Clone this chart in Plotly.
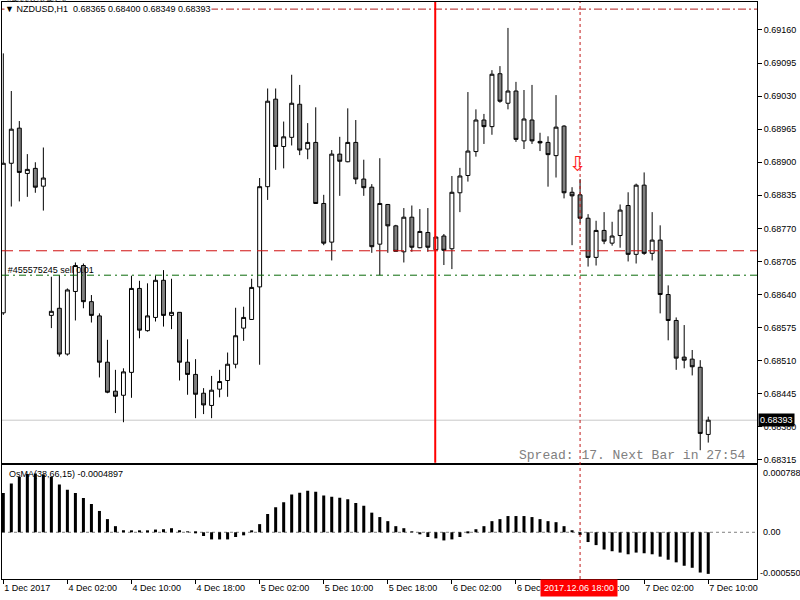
import plotly.graph_objects as go

# ---------------- data ----------------
bar_index = list(range(89))

opens = [0.68604, 0.68898, 0.68967, 0.68878, 0.68888, 0.68853, 0.68599, 0.68613, 0.68523, 0.68646,
         0.68697, 0.68626, 0.68598, 0.68507, 0.68450, 0.68442, 0.68487, 0.68652, 0.68569, 0.68595,
         0.68668, 0.68599, 0.68605, 0.68507, 0.68483, 0.68446, 0.68422, 0.68454, 0.68471, 0.68503,
         0.68574, 0.68591, 0.68655, 0.68852, 0.69024, 0.68931, 0.68949, 0.69014, 0.68926, 0.68939,
         0.68819, 0.68743, 0.68916, 0.68901, 0.68939, 0.68867, 0.68851, 0.68739, 0.68817, 0.68775,
         0.68724, 0.68792, 0.68732, 0.68762, 0.68728, 0.68755, 0.68730, 0.68840, 0.68874, 0.68921,
         0.68983, 0.68970, 0.69074, 0.69016, 0.69040, 0.68942, 0.68983, 0.68941, 0.68939, 0.68913,
         0.68971, 0.68841, 0.68836, 0.68790, 0.68713, 0.68766, 0.68741, 0.68756, 0.68815, 0.68719,
         0.68855, 0.68721, 0.68747, 0.68640, 0.68589, 0.68517, 0.68513, 0.68497, 0.68365]
highs = [0.69114, 0.69040, 0.68981, 0.68916, 0.68900, 0.68929, 0.68675, 0.68678, 0.68652, 0.68703,
         0.68701, 0.68639, 0.68603, 0.68551, 0.68492, 0.68495, 0.68677, 0.68667, 0.68662, 0.68677,
         0.68688, 0.68671, 0.68605, 0.68552, 0.68513, 0.68456, 0.68480, 0.68492, 0.68526, 0.68614,
         0.68616, 0.68671, 0.68869, 0.69045, 0.69045, 0.68980, 0.69072, 0.69052, 0.68977, 0.69008,
         0.68836, 0.68924, 0.68950, 0.69006, 0.68983, 0.68905, 0.68857, 0.68908, 0.68818, 0.68777,
         0.68810, 0.68815, 0.68808, 0.68810, 0.68754, 0.68759, 0.68873, 0.68889, 0.69038, 0.69004,
         0.68995, 0.69081, 0.69089, 0.69164, 0.69058, 0.69042, 0.69052, 0.68958, 0.68951, 0.69032,
         0.68973, 0.68851, 0.68867, 0.68798, 0.68785, 0.68802, 0.68783, 0.68817, 0.68841, 0.68858,
         0.68880, 0.68802, 0.68776, 0.68658, 0.68595, 0.68580, 0.68531, 0.68511, 0.68400]
lows = [0.68600, 0.68813, 0.68823, 0.68832, 0.68840, 0.68805, 0.68574, 0.68518, 0.68520, 0.68589,
        0.68613, 0.68585, 0.68477, 0.68446, 0.68407, 0.68389, 0.68437, 0.68554, 0.68567, 0.68587,
        0.68577, 0.68572, 0.68471, 0.68443, 0.68397, 0.68405, 0.68397, 0.68438, 0.68439, 0.68495,
        0.68549, 0.68590, 0.68502, 0.68826, 0.68885, 0.68888, 0.68933, 0.68914, 0.68906, 0.68819,
        0.68737, 0.68707, 0.68834, 0.68900, 0.68857, 0.68834, 0.68722, 0.68678, 0.68722, 0.68725,
        0.68703, 0.68724, 0.68731, 0.68724, 0.68727, 0.68698, 0.68690, 0.68802, 0.68862, 0.68911,
        0.68936, 0.68954, 0.69017, 0.69004, 0.68940, 0.68926, 0.68936, 0.68922, 0.68852, 0.68870,
        0.68829, 0.68737, 0.68780, 0.68695, 0.68697, 0.68739, 0.68736, 0.68732, 0.68705, 0.68701,
        0.68718, 0.68707, 0.68603, 0.68550, 0.68492, 0.68495, 0.68481, 0.68334, 0.68349]
closes = [0.68898, 0.68965, 0.68880, 0.68886, 0.68851, 0.68869, 0.68607, 0.68523, 0.68649, 0.68697,
          0.68626, 0.68599, 0.68507, 0.68448, 0.68440, 0.68488, 0.68652, 0.68570, 0.68598, 0.68668,
          0.68599, 0.68605, 0.68507, 0.68483, 0.68444, 0.68423, 0.68452, 0.68469, 0.68503, 0.68559,
          0.68595, 0.68654, 0.68852, 0.69020, 0.68931, 0.68950, 0.69016, 0.68924, 0.68939, 0.68819,
          0.68741, 0.68916, 0.68902, 0.68939, 0.68867, 0.68850, 0.68734, 0.68819, 0.68775, 0.68725,
          0.68792, 0.68733, 0.68764, 0.68733, 0.68753, 0.68727, 0.68841, 0.68873, 0.68922, 0.68983,
          0.68970, 0.69073, 0.69020, 0.69040, 0.68945, 0.68985, 0.68942, 0.68938, 0.68915, 0.68969,
          0.68840, 0.68834, 0.68790, 0.68713, 0.68766, 0.68745, 0.68755, 0.68806, 0.68719, 0.68855,
          0.68721, 0.68747, 0.68640, 0.68589, 0.68515, 0.68511, 0.68498, 0.68367, 0.68393]

osma = [0.000462, 0.000573, 0.000653, 0.000685, 0.000693, 0.000681, 0.000653, 0.000561, 0.000502, 0.000462,
        0.000402, 0.000334, 0.000251, 0.000155, 0.000072, 0.000024, 0.000020, 0.000012, 0.000012, 0.000032,
        0.000036, 0.000048, 0.000024, 0.000008, -0.000008, -0.000044, -0.000084, -0.000084, -0.000084, -0.000056,
        -0.000036, 0.000012, 0.000096, 0.000215, 0.000295, 0.000354, 0.000446, 0.000466, 0.000490, 0.000478,
        0.000434, 0.000418, 0.000406, 0.000390, 0.000346, 0.000311, 0.000231, 0.000179, 0.000131, 0.000072,
        0.000048, 0.000004, -0.000024, -0.000056, -0.000072, -0.000096, -0.000084, -0.000056, -0.000008, 0.000036,
        0.000072, 0.000131, 0.000155, 0.000191, 0.000191, 0.000191, 0.000179, 0.000155, 0.000131, 0.000119,
        0.000072, 0.000024, -0.000032, -0.000115, -0.000151, -0.000203, -0.000223, -0.000239, -0.000259, -0.000239,
        -0.000247, -0.000259, -0.000287, -0.000323, -0.000354, -0.000394, -0.000418, -0.000474, -0.0004897]

time_tick_index = [0, 8, 16, 24, 32, 40, 48, 56, 64, 72, 80, 88]
time_tick_labels = ["1 Dec 2017", "4 Dec 02:00", "4 Dec 10:00", "4 Dec 18:00", "5 Dec 02:00", "5 Dec 10:00",
                    "5 Dec 18:00", "6 Dec 02:00", "6 Dec 10:00", "6 Dec 18:00", "7 Dec 02:00", "7 Dec 10:00"]
price_ticks = [0.69160, 0.69095, 0.69030, 0.68965, 0.68900, 0.68835, 0.68770, 0.68705,
               0.68640, 0.68575, 0.68510, 0.68445, 0.68380, 0.68315]

bid_price = 0.68393
order_open = 0.68678
order_sl = 0.69201
level_red = 0.68726
vline_solid_bar = 53.92
vline_dash_bar = 72
signal_bar = 72
signal_price = 0.68897
osma_max = 0.000788
osma_min = -0.000550

FONT = "Liberation Sans"

# ---------------- figure ----------------
fig = go.Figure()

fig.add_trace(go.Scatter(
    x=[0.55], y=[order_open], mode="text", text=["#455575245 sell 0.01"],
    textposition="top right", textfont=dict(family=FONT, size=9, color="black"),
    hoverinfo="skip", showlegend=False, cliponaxis=False, xaxis="x", yaxis="y"))

fig.add_trace(go.Candlestick(
    x=bar_index, open=opens, high=highs, low=lows, close=closes,
    increasing=dict(line=dict(color="black", width=1), fillcolor="white"),
    decreasing=dict(line=dict(color="black", width=1), fillcolor="#808080"),
    whiskerwidth=0, showlegend=False, xaxis="x", yaxis="y"))

fig.add_trace(go.Bar(
    x=bar_index, y=osma, width=0.375, marker=dict(color="black", line=dict(width=0)),
    showlegend=False, xaxis="x2", yaxis="y2"))

x0 = -0.1625
x1 = x0 + 754 / 8.0

axis_common = dict(showline=True, mirror=True, linecolor="black", linewidth=1,
                   showgrid=False, zeroline=False)

fig.update_layout(
    width=800, height=600,
    margin=dict(l=2, r=43, t=2, b=21),
    paper_bgcolor="white", plot_bgcolor="white",
    showlegend=False, hovermode=False,
    font=dict(family=FONT, size=9, color="black"),
    xaxis=dict(domain=[0, 1], range=[x0, x1], anchor="y", showticklabels=False,
               rangeslider=dict(visible=False), ticks="", **axis_common),
    xaxis2=dict(domain=[0, 1], range=[x0, x1], anchor="y2", matches="x",
                tickvals=time_tick_index, ticktext=time_tick_labels,
                ticks="outside", ticklen=4, tickcolor="black",
                ticklabelposition="outside right",
                tickfont=dict(family=FONT, size=9, color="black"), **axis_common),
    yaxis=dict(domain=[0.2016, 1], range=[0.683095, 0.692150], anchor="x", side="right",
               tickvals=price_ticks, tickformat=".5f", ticks="outside", ticklen=4,
               tickcolor="black", tickfont=dict(family=FONT, size=9, color="black"),
               **axis_common),
    yaxis2=dict(domain=[0, 0.197], range=[osma_min, osma_max], anchor="x2", side="right",
                showticklabels=False, ticks="", **axis_common),
)

shapes = []
shapes.append(dict(type="line", xref="x domain", x0=0, x1=1, yref="y", y0=bid_price, y1=bid_price,
                   line=dict(color="#c8c8c8", width=1), layer="below"))
shapes.append(dict(type="line", xref="x domain", x0=0, x1=1, yref="y", y0=level_red, y1=level_red,
                   line=dict(color="#d01010", width=1, dash="11px,6px")))
shapes.append(dict(type="line", xref="x domain", x0=0, x1=1, yref="y", y0=order_open, y1=order_open,
                   line=dict(color="#0a6a0a", width=1, dash="7px,4px,2px,4px")))
shapes.append(dict(type="line", xref="x domain", x0=0, x1=1, yref="y", y0=order_sl, y1=order_sl,
                   line=dict(color="#b01c1c", width=1, dash="8px,3px,2px,3px")))
shapes.append(dict(type="line", xref="x", x0=vline_solid_bar, x1=vline_solid_bar, yref="y domain",
                   y0=0, y1=1, line=dict(color="#ff0000", width=2)))
shapes.append(dict(type="line", xref="x", x0=vline_dash_bar, x1=vline_dash_bar, yref="paper",
                   y0=0, y1=1, line=dict(color="#c01818", width=1, dash="3px,3px")))
shapes.append(dict(type="line", xref="x2 domain", x0=0, x1=1, yref="y2", y0=0, y1=0,
                   line=dict(color="#808080", width=1, dash="3px,3px"), layer="below"))
fig.update_layout(shapes=shapes)

ann = []
ann.append(dict(text="#455575245 sl", xref="paper", x=0.004, yref="paper", y=1.006,
                xanchor="left", yanchor="middle", showarrow=False,
                font=dict(family=FONT, size=9, color="#404040")))
ann.append(dict(text="\u25bc NZDUSD,H1  0.68365 0.68400 0.68349 0.68393", xref="paper", x=0.003,
                yref="paper", y=0.9879, xanchor="left", yanchor="middle", showarrow=False,
                bgcolor="white", borderpad=0, font=dict(family=FONT, size=9, color="black")))
ann.append(dict(text="OsMA(38,66,15) -0.0004897", xref="paper", x=0.007, yref="paper", y=0.182,
                xanchor="left", yanchor="middle", showarrow=False,
                font=dict(family=FONT, size=9, color="black")))
ann.append(dict(text="0.000788", xref="paper", x=1, xshift=4, yref="paper", y=0.1837,
                xanchor="left", yanchor="middle", showarrow=False,
                font=dict(family=FONT, size=9, color="black")))
ann.append(dict(text="0.00", xref="paper", x=1, xshift=4, yref="y2", y=0,
                xanchor="left", yanchor="middle", showarrow=False,
                font=dict(family=FONT, size=9, color="black")))
ann.append(dict(text="-0.000550", xref="paper", x=1, xshift=1, yref="paper", y=0.0104,
                xanchor="left", yanchor="middle", showarrow=False,
                font=dict(family=FONT, size=9, color="black")))
ann.append(dict(text="%.5f" % bid_price, xref="paper", x=1, xshift=1, yref="y", y=bid_price,
                xanchor="left", yanchor="middle", showarrow=False, bgcolor="black", borderpad=1,
                font=dict(family=FONT, size=9, color="white")))
ann.append(dict(text="2017.12.06 18:00", xref="x2", x=vline_dash_bar - 0.1, yref="paper", y=-0.0156,
                xanchor="center", yanchor="middle", showarrow=False, bgcolor="#ff0000", borderpad=3,
                font=dict(family=FONT, size=9, color="white")))
ann.append(dict(text="Spread: 17. Next Bar in 27:54", xref="paper", x=0.9867, yref="paper", y=0.2149,
                xanchor="right", yanchor="middle", showarrow=False,
                font=dict(family="Liberation Mono", size=13, color="#808080")))
ann.append(dict(text="\u21e9", xref="x", x=signal_bar - 0.2, yref="y", y=signal_price,
                xanchor="center", yanchor="middle", showarrow=False,
                font=dict(family="DejaVu Sans", size=21, color="#ff2020")))
fig.update_layout(annotations=ann)

fig.write_html("out.html")
